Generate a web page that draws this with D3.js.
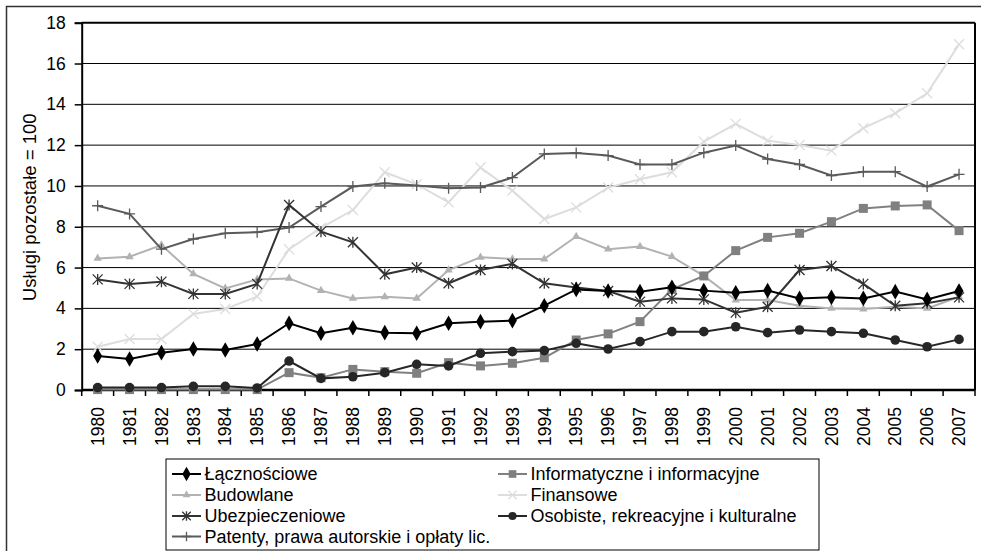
<!DOCTYPE html>
<html><head><meta charset="utf-8">
<script src="https://cdn.jsdelivr.net/npm/d3@7"></script>
<style>body{margin:0;background:#fff}svg{display:block}text{font-family:"Liberation Sans",Arial,sans-serif}</style>
</head><body>
<script>
const years = ["1980","1981","1982","1983","1984","1985","1986","1987","1988","1989","1990","1991","1992","1993","1994","1995","1996","1997","1998","1999","2000","2001","2002","2003","2004","2005","2006","2007"];
const yTicks = [0,2,4,6,8,10,12,14,16,18];
const lacznosciowe = [1.67,1.52,1.83,2.01,1.96,2.25,3.27,2.78,3.05,2.81,2.78,3.27,3.35,3.40,4.13,4.93,4.85,4.82,5.03,4.87,4.77,4.87,4.49,4.54,4.49,4.82,4.44,4.85];
const informatyczne = [0.02,0.02,0.02,0.02,0.02,0.02,0.85,0.60,1.01,0.90,0.82,1.34,1.18,1.31,1.58,2.45,2.75,3.35,4.93,5.59,6.83,7.48,7.68,8.25,8.90,9.02,9.07,7.81];
const budowlane = [6.45,6.53,7.10,5.69,4.98,5.42,5.47,4.87,4.49,4.57,4.49,5.88,6.50,6.42,6.42,7.52,6.90,7.03,6.54,5.59,4.41,4.41,4.13,4.00,3.97,4.08,4.00,4.57];
const finansowe = [2.12,2.50,2.50,3.73,3.97,4.58,6.90,7.95,8.82,10.67,10.08,9.20,10.90,9.77,8.38,8.95,9.92,10.33,10.67,12.17,13.04,12.22,12.01,11.73,12.83,13.56,14.54,16.94];
const ubezpieczeniowe = [5.42,5.20,5.31,4.71,4.71,5.20,9.07,7.76,7.24,5.67,6.00,5.23,5.88,6.18,5.23,5.02,4.85,4.33,4.49,4.44,3.79,4.08,5.88,6.08,5.20,4.13,4.25,4.54];
const osobiste = [0.12,0.12,0.12,0.18,0.18,0.10,1.42,0.57,0.65,0.85,1.26,1.18,1.80,1.88,1.93,2.29,2.01,2.37,2.86,2.86,3.10,2.81,2.94,2.86,2.78,2.45,2.12,2.48];
const patenty = [9.03,8.63,6.90,7.40,7.68,7.73,7.96,8.99,9.97,10.13,10.02,9.89,9.92,10.41,11.57,11.62,11.49,11.05,11.05,11.63,11.98,11.32,11.05,10.51,10.70,10.70,9.97,10.57];
const seriesNames = ["Łącznościowe","Informatyczne i informacyjne","Budowlane","Finansowe","Ubezpieczeniowe","Osobiste, rekreacyjne i kulturalne","Patenty, prawa autorskie i opłaty lic."];
const yTitle = "Usługi pozostałe = 100";

const series = [
  {name:seriesNames[0], values:lacznosciowe, color:"#000000", marker:"diamond"},
  {name:seriesNames[1], values:informatyczne, color:"#808080", marker:"square"},
  {name:seriesNames[2], values:budowlane, color:"#b2b2b2", marker:"triangle"},
  {name:seriesNames[3], values:finansowe, color:"#dddddd", marker:"x"},
  {name:seriesNames[4], values:ubezpieczeniowe, color:"#333333", marker:"star"},
  {name:seriesNames[5], values:osobiste, color:"#262626", marker:"circle"},
  {name:seriesNames[6], values:patenty, color:"#5a5a5a", marker:"plus"}
];

const W=981,H=551;
const svg=d3.select("body").append("svg").attr("width",W).attr("height",H);
svg.append("rect").attr("x",6.5).attr("y",6.5).attr("width",980).attr("height",550).attr("fill","none").attr("stroke","#333").attr("stroke-width",1.5);

const L=81.7,R=975,T=22.7,B=390;
const x=d3.scaleBand().domain(years).range([L,R]);
const y=d3.scaleLinear().domain([0,18]).range([B,T]);

svg.append("g").selectAll("line").data(yTicks.filter(d=>d>0&&d<18)).join("line")
  .attr("x1",L).attr("x2",R).attr("y1",d=>y(d)).attr("y2",d=>y(d)).attr("stroke","#000").attr("stroke-width",1);

svg.append("line").attr("x1",L).attr("x2",R).attr("y1",T).attr("y2",T).attr("stroke","#000").attr("stroke-width",2);
svg.append("line").attr("x1",R).attr("x2",R).attr("y1",T).attr("y2",B).attr("stroke","#000").attr("stroke-width",2);

const ya=svg.append("g").attr("transform",`translate(${L},0)`).call(d3.axisLeft(y).tickValues(yTicks).tickSize(7).tickPadding(9));
ya.select(".domain").attr("stroke","#000").attr("stroke-width",2);
ya.selectAll(".tick line").attr("stroke","#000").attr("stroke-width",1.5);
ya.selectAll("text").attr("font-size",17.5).attr("fill","#000").attr("font-family","Liberation Sans, Arial");

const xa=svg.append("g").attr("transform",`translate(0,${B})`);
xa.append("line").attr("x1",L).attr("x2",R).attr("stroke","#000").attr("stroke-width",2.5);
const bounds=years.map(d=>x(d)).concat([R]);
xa.selectAll("line.tk").data(bounds).join("line").attr("class","tk")
  .attr("x1",d=>d).attr("x2",d=>d).attr("y1",0).attr("y2",6).attr("stroke","#000").attr("stroke-width",1.5);
xa.selectAll("text").data(years).join("text")
  .attr("transform",d=>`translate(${x(d)+x.bandwidth()/2+6.2},17) rotate(-90)`)
  .attr("text-anchor","end").attr("font-size",17.5).attr("fill","#000").text(d=>d);

svg.append("text").attr("transform",`translate(36,${(T+B)/2+1}) rotate(-90)`).attr("text-anchor","middle")
  .attr("font-size",18.5).attr("fill","#000").text(yTitle);

function drawMarker(g,type,cx,cy,color,scale){
  const s=scale||1;
  if(type==="diamond"){
    g.append("path").attr("d",d3.symbol(d3.symbolDiamond,70*s)()).attr("transform",`translate(${cx},${cy})`).attr("fill",color);
  } else if(type==="square"){
    g.append("rect").attr("x",cx-4.5*s).attr("y",cy-4.5*s).attr("width",9*s).attr("height",9*s).attr("fill",color);
  } else if(type==="triangle"){
    g.append("path").attr("d",d3.symbol(d3.symbolTriangle,30*s)()).attr("transform",`translate(${cx},${cy})`).attr("fill",color);
  } else if(type==="circle"){
    g.append("circle").attr("cx",cx).attr("cy",cy).attr("r",4.8*s).attr("fill",color);
  } else if(type==="x"){
    const r=5*s;
    g.append("path").attr("d",`M${cx-r},${cy-r}L${cx+r},${cy+r}M${cx-r},${cy+r}L${cx+r},${cy-r}`).attr("stroke",color).attr("stroke-width",1.3);
  } else if(type==="plus"){
    const r=5.5*s;
    g.append("path").attr("d",`M${cx-r},${cy}L${cx+r},${cy}M${cx},${cy-r}L${cx},${cy+r}`).attr("stroke",color).attr("stroke-width",1.3);
  } else if(type==="star"){
    const r=5*s;
    g.append("path").attr("d",`M${cx-r},${cy-r}L${cx+r},${cy+r}M${cx-r},${cy+r}L${cx+r},${cy-r}M${cx},${cy-r*1.1}L${cx},${cy+r*1.1}`).attr("stroke",color).attr("stroke-width",1.3);
  }
}

const cxf=d=>x(d)+x.bandwidth()/2;
const line=d3.line().x((v,i)=>cxf(years[i])).y(v=>y(v));
const order=[3,2,1,6,4,5,0];
order.forEach(k=>{
  const s=series[k];
  const g=svg.append("g");
  g.append("path").attr("d",line(s.values)).attr("fill","none").attr("stroke",s.color).attr("stroke-width",2);
  s.values.forEach((v,i)=>drawMarker(g,s.marker,cxf(years[i]),y(v),s.color));
});

const lg=svg.append("g");
lg.append("rect").attr("x",166).attr("y",459).attr("width",653).attr("height",91).attr("fill","#fff").attr("stroke","#000").attr("stroke-width",1);
const rowsY=[474,495,516,536.5];
series.forEach((s,i)=>{
  const col=i%2,row=Math.floor(i/2);
  const x0=col===0?172:498, ly=rowsY[row];
  lg.append("line").attr("x1",x0).attr("x2",x0+29).attr("y1",ly).attr("y2",ly).attr("stroke",s.color).attr("stroke-width",2);
  drawMarker(lg,s.marker,x0+14.5,ly,s.color,0.85);
  lg.append("text").attr("x",x0+32.5).attr("y",ly+6.3).attr("font-size",18).attr("fill","#000").text(s.name);
});
</script>
</body></html>
